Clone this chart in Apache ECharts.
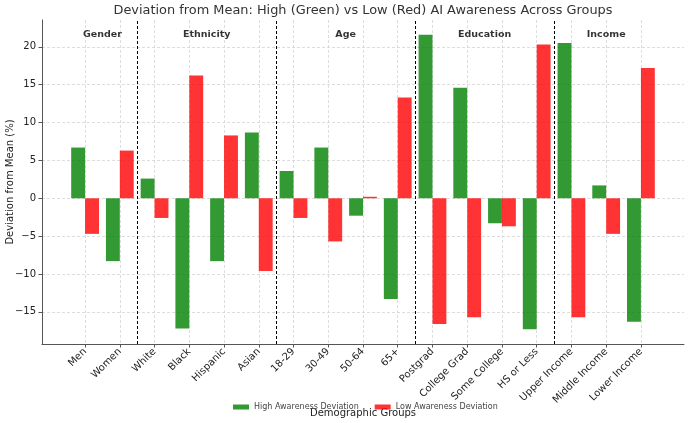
<!DOCTYPE html>
<html><head><meta charset="utf-8">
<script src="https://cdn.jsdelivr.net/npm/echarts@6/dist/echarts.min.js"></script>
<style>html,body{margin:0;padding:0;background:#fff}#c{width:690px;height:423px}</style>
</head><body><div id="c"></div>
<script>
const categories = ['Men','Women','White','Black','Hispanic','Asian','18-29','30-49','50-64','65+','Postgrad','College Grad','Some College','HS or Less','Upper Income','Middle Income','Lower Income'];
const highDeviation = [6.7,-8.3,2.6,-17.2,-8.3,8.7,3.6,6.7,-2.3,-13.3,21.6,14.6,-3.3,-17.3,20.5,1.7,-16.3];
const lowDeviation = [-4.7,6.3,-2.6,16.2,8.3,-9.6,-2.6,-5.7,0.2,13.3,-16.6,-15.7,-3.7,20.3,-15.7,-4.7,17.2];
const groupNames = ['Gender','Ethnicity','Age','Education','Income'];
const groupSizes = [2,4,4,4,3];
const yTicks = [-15,-10,-5,0,5,10,15,20];

// derived
const groupStarts = [];
let acc = 0;
groupSizes.forEach(s => { groupStarts.push(acc); acc += s; });
const groupCenters = groupStarts.map((s,k) => s + (groupSizes[k]-1)/2);
const separators = groupStarts.slice(1).map(s => s - 0.5);
const barW = 0.4;
const xLo = -barW, xHi = categories.length - 1 + barW;
const xPad = 0.05 * (xHi - xLo);
const allVals = highDeviation.concat(lowDeviation);
const yLo = Math.min(...allVals), yHi = Math.max(...allVals);
const yPad = 0.05 * (yHi - yLo);
const groupLabelY = 21.6;
const xIdx = categories.map((c,i) => i);
const fmtNum = v => v < 0 ? '\u2212' + Math.abs(v) : String(v);

function barRenderer(side) {
  return function (params, api) {
    const i = api.value(0), v = api.value(1);
    const x0 = side < 0 ? i - barW : i;
    const p0 = api.coord([x0, 0]);
    const p1 = api.coord([x0 + barW, v]);
    return {
      type: 'rect',
      shape: {x: p0[0], y: Math.min(p0[1], p1[1]), width: p1[0] - p0[0], height: Math.abs(p1[1] - p0[1])},
      style: {fill: api.visual('color')}
    };
  };
}

const chart = echarts.init(document.getElementById('c'), null, {renderer:'canvas'});
chart.setOption({
  animation: false,
  textStyle: {fontFamily: 'DejaVu Sans'},
  graphic: [{
    type: 'text', x: 363, y: 11, silent: true,
    style: {
      text: 'Deviation from Mean: High (Green) vs Low (Red) AI Awareness Across Groups',
      fontSize: 12.9, fontFamily: 'DejaVu Sans', fill: '#333', align: 'center', verticalAlign: 'middle'
    }
  }],
  legend: {
    data: ['High Awareness Deviation','Low Awareness Deviation'],
    left: 228, top: 398,
    icon: 'rect', itemWidth: 16, itemHeight: 5, itemGap: 16,
    textStyle: {fontSize: 8, color: '#444'}
  },
  grid: {left: 42, right: 6, top: 20, bottom: 79, containLabel: false, outerBoundsMode: 'none'},
  xAxis: {
    type: 'value', min: xLo - xPad, max: xHi + xPad,
    name: 'Demographic Groups', nameLocation: 'middle', nameGap: 64, nameMoveOverlap: false,
    nameTextStyle: {fontSize: 10, color: '#222'},
    axisLine: {show: true, onZero: false, lineStyle: {color: '#555', width: 1}},
    axisTick: {show: true, customValues: xIdx, length: 3.5, lineStyle: {color: '#555'}},
    axisLabel: {customValues: xIdx, formatter: v => categories[Math.round(v)], rotate: 45, fontSize: 10, color: '#222', margin: 6},
    splitLine: {show: true, lineStyle: {color: '#d4d4d4', type: [3,2], width: 0.8}}
  },
  yAxis: {
    type: 'value', min: yLo - yPad, max: yHi + yPad,
    name: 'Deviation from Mean (%)', nameLocation: 'middle', nameGap: 27, nameMoveOverlap: false,
    nameTextStyle: {fontSize: 10, color: '#222'},
    axisLine: {show: true, onZero: false, lineStyle: {color: '#555', width: 1}},
    axisTick: {show: true, customValues: yTicks, length: 3.5, lineStyle: {color: '#555'}},
    axisLabel: {customValues: yTicks, formatter: fmtNum, fontSize: 10, color: '#222', margin: 6},
    splitLine: {show: true, lineStyle: {color: '#d4d4d4', type: [3,2], width: 0.8}}
  },
  series: [
    {
      type: 'custom', name: 'High Awareness Deviation',
      renderItem: barRenderer(-1),
      encode: {x: 0, y: 1},
      data: highDeviation.map((v,i) => [i, v]),
      itemStyle: {color: 'rgba(0,128,0,0.8)'}
    },
    {
      type: 'custom', name: 'Low Awareness Deviation',
      renderItem: barRenderer(1),
      encode: {x: 0, y: 1},
      data: lowDeviation.map((v,i) => [i, v]),
      itemStyle: {color: 'rgba(255,0,0,0.8)'}
    },
    {
      type: 'scatter', name: 'groups', silent: true,
      symbolSize: 1, itemStyle: {color: 'rgba(0,0,0,0)'},
      data: groupCenters.map((c,k) => ({value: [c, groupLabelY], name: groupNames[k]})),
      label: {show: true, position: 'inside', formatter: p => p.name, fontSize: 9.5, fontWeight: 'bold', color: '#000'},
      markLine: {
        silent: true, symbol: ['none','none'],
        label: {show: false},
        lineStyle: {color: '#000', type: [3,2], width: 1},
        data: separators.map(x => ({xAxis: x}))
      },
      z: 5
    }
  ]
});
</script>
</body></html>
